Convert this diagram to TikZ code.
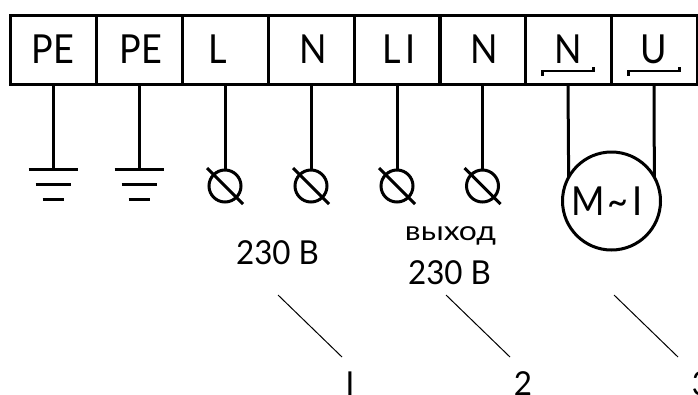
\documentclass[tikz,border=0pt]{standalone}
\usepackage{fontspec}
\setmainfont{Lato}
\newfontfamily\narrowf[FakeStretch=0.9]{Lato}
\newfontfamily\labelf[FakeStretch=0.95]{Lato}
\newfontfamily\widef[FakeStretch=1.18]{Lato}
\begin{document}
\begin{tikzpicture}[x=1pt,y=-1pt,
  termbox/.style={draw,line width=3pt,minimum width=86pt,minimum height=69pt,inner sep=0pt,outer sep=0pt,font=\narrowf\fontsize{40}{40}\selectfont,text height=27pt,text depth=0pt},
  wire/.style={line width=3pt},
  thin line/.style={line width=1pt},
  lamp/.style={circle,draw,line width=3pt,minimum size=32pt,inner sep=0pt,outer sep=0pt},
  motorc/.style={circle,draw,line width=3pt,minimum size=98pt,inner sep=0pt,outer sep=0pt,font=\narrowf\fontsize{40}{40}\selectfont},
  lbl/.style={inner sep=0pt,font=\labelf\fontsize{33}{33}\selectfont},
  smalllbl/.style={inner sep=0pt,font=\widef\fontsize{27}{27}\selectfont}]
\useasboundingbox (0,0) rectangle (698,394);
\clip (0,0) rectangle (698,394);
\foreach \n/\x/\t in {a/53/PE,b/139/{\kern4pt PE},c/225/{\kern-14pt L},d/311/{\kern4pt N},e/397/{\kern4pt L\kern4pt I},f/482.5/{\kern4pt N},g/568/N,h/654/U}
  \node[termbox] (\n) at (\x,49.5) {\t};
% earth
\foreach \n in {a,b}{
  \coordinate (\n0) at (\n.south |- 0,169);
  \draw[wire] (\n.south) -- (\n0);
  \draw[wire] ([xshift=-24.5pt]\n0) -- ([xshift=24.5pt]\n0);
  \draw[wire] ([xshift=-17.5pt,yshift=-15pt]\n0) -- ([xshift=17.5pt,yshift=-15pt]\n0);
  \draw[wire] ([xshift=-10.5pt,yshift=-30pt]\n0) -- ([xshift=10.5pt,yshift=-30pt]\n0);
}
% lamps
\foreach \n in {c,d,e,f}{
  \node[lamp] (\n1) at (\n.south |- 0,186) {};
  \draw[wire] (\n.south) -- (\n1.north);
  \draw[wire] ([shift={(-18,-18)}]\n1.center) -- ([shift={(18,18)}]\n1.center);
}
% motor
\node[motorc] (m) at (611.5,201) {M\kern2pt\char`~\kern4pt I\kern9pt};
\draw[wire] (g.south) -- (m.151);
\draw[wire] (h.south) -- (m.29);
% brackets
\foreach \n in {g,h}
  \draw[line width=2.5pt] ([shift={(-25.5,26)}]\n.center) -- ([shift={(-25.5,21.5)}]\n.center) -- ([shift={(25.5,21.5)}]\n.center) -- ([shift={(25.5,17)}]\n.center);
% labels
\node[lbl] (v1) at (277.5,253) {230 В};
\node[smalllbl] (vy) at (450.5,236) {выход};
\node[lbl] (v2) at (449.5,273) {230 В};
\coordinate (s1) at (278,295); \coordinate (e1) at (342,357);
\coordinate (s2) at (446,295); \coordinate (e2) at (510,357);
\coordinate (s3) at (614,295); \coordinate (e3) at (678,357);
\draw[thin line] (s1) -- (e1);
\draw[thin line] (s2) -- (e2);
\draw[thin line] (s3) -- (e3);
\node[lbl] (n1) at (350,384) {I};
\node[lbl] (n2) at (523,384) {2};
\node[lbl] (n3) at (701,384) {3};
\end{tikzpicture}
\end{document}
